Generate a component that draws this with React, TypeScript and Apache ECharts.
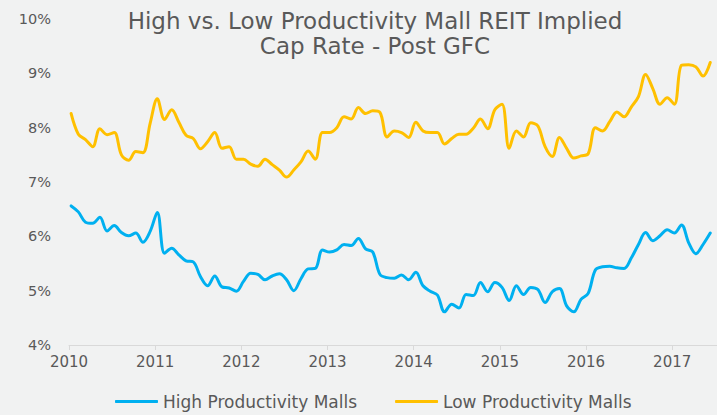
import React, { useEffect, useRef } from "react";
import * as echarts from "echarts";

// Monthly implied cap rates (%), Jan 2010 – Jun 2017
const highProductivity = [
  6.56, 6.45, 6.26, 6.24, 6.35, 6.10, 6.20, 6.07, 6.01, 6.06, 5.89, 6.09,
  6.44, 5.69, 5.78, 5.66, 5.55, 5.53, 5.26, 5.09, 5.27, 5.07, 5.05, 4.99,
  5.17, 5.32, 5.30, 5.20, 5.27, 5.31, 5.20, 5.00, 5.22, 5.40, 5.41, 5.75,
  5.71, 5.75, 5.85, 5.83, 5.96, 5.77, 5.71, 5.30, 5.24, 5.23, 5.29, 5.20,
  5.34, 5.09, 4.99, 4.92, 4.61, 4.75, 4.68, 4.93, 4.91, 5.15, 4.98, 5.15,
  5.06, 4.82, 5.09, 4.93, 5.06, 5.02, 4.78, 4.98, 5.04, 4.72, 4.61, 4.84,
  4.95, 5.38, 5.44, 5.45, 5.42, 5.41, 5.60, 5.85, 6.07, 5.92, 6.01, 6.12,
  6.06, 6.21, 5.88, 5.68, 5.85, 6.06,
];

const lowProductivity = [
  8.26, 7.88, 7.78, 7.65, 7.98, 7.87, 7.91, 7.50, 7.40, 7.56, 7.54, 8.08,
  8.53, 8.15, 8.33, 8.10, 7.86, 7.80, 7.61, 7.74, 7.91, 7.62, 7.65, 7.42,
  7.42, 7.33, 7.29, 7.42, 7.32, 7.22, 7.09, 7.22, 7.37, 7.57, 7.42, 7.91,
  7.91, 8.00, 8.20, 8.16, 8.37, 8.26, 8.31, 8.28, 7.83, 7.94, 7.91, 7.82,
  8.10, 7.94, 7.91, 7.91, 7.70, 7.80, 7.88, 7.88, 7.99, 8.16, 7.98, 8.33,
  8.43, 7.62, 7.94, 7.83, 8.09, 8.03, 7.65, 7.47, 7.82, 7.62, 7.44, 7.48,
  7.52, 8.00, 7.94, 8.11, 8.29, 8.20, 8.38, 8.57, 8.98, 8.72, 8.43, 8.55,
  8.43, 9.15, 9.16, 9.12, 8.95, 9.20,
];

const startYear = 2010;
const monthOffset = 0.3; // observations fall early in each month
const yTicks = [4, 5, 6, 7, 8, 9, 10];
const xYears = [2010, 2011, 2012, 2013, 2014, 2015, 2016, 2017];
const seriesNames = ["High Productivity Malls", "Low Productivity Malls"];
const titleText = "High vs. Low Productivity Mall REIT Implied\nCap Rate - Post GFC";

const monthX = (i: number) => startYear + (i + monthOffset) / 12;

export default function App() {
  const ref = useRef<HTMLDivElement>(null);

  useEffect(() => {
    if (!ref.current) return;
    const chart = echarts.init(ref.current, undefined, { renderer: "svg" });
    const font = "DejaVu Sans, Liberation Sans, Arial, sans-serif";
    const grey = "#595959";
    chart.setOption({
      animation: false,
      backgroundColor: "#F1F2F2",
      title: {
        text: titleText,
        left: 370,
        top: 3,
        textAlign: "center",
        textStyle: {
          fontFamily: font,
          fontSize: 23,
          fontWeight: "normal",
          color: grey,
          lineHeight: 25,
        },
      },
      grid: { left: 69, right: 0, top: 19, bottom: 70, containLabel: false },
      xAxis: {
        type: "value",
        min: xYears[0],
        max: 2017.52,
        interval: 1,
        axisLine: { show: true, lineStyle: { color: "#D9D9D9", width: 1 } },
        axisTick: { show: true, length: 5, lineStyle: { color: "#D9D9D9" } },
        splitLine: { show: false },
        axisLabel: {
          showMaxLabel: false,
          margin: 9,
          fontFamily: font,
          fontSize: 15,
          color: grey,
          formatter: (v: number) => (xYears.includes(Math.round(v)) && Math.abs(v - Math.round(v)) < 1e-6 ? String(Math.round(v)) : ""),
        },
      },
      yAxis: {
        type: "value",
        min: yTicks[0],
        max: yTicks[yTicks.length - 1],
        interval: 1,
        axisLine: { show: false },
        axisTick: { show: false },
        splitLine: { show: false },
        axisLabel: {
          margin: 18,
          fontFamily: font,
          fontSize: 14.5,
          color: grey,
          formatter: (v: number) => `${v}%`,
        },
      },
      legend: {
        left: 110,
        top: 388,
        icon: "roundRect",
        itemWidth: 43,
        itemHeight: 3,
        itemGap: 38,
        textStyle: { fontFamily: font, fontSize: 17, color: grey },
        data: seriesNames,
      },
      series: [
        {
          name: seriesNames[0],
          type: "line",
          smooth: 0.35,
          showSymbol: false,
          color: "#00B0F0",
          lineStyle: { width: 3, color: "#00B0F0", cap: "round", join: "round" },
          data: highProductivity.map((v, i) => [monthX(i), v]),
        },
        {
          name: seriesNames[1],
          type: "line",
          smooth: 0.35,
          showSymbol: false,
          color: "#FFC000",
          lineStyle: { width: 3, color: "#FFC000", cap: "round", join: "round" },
          data: lowProductivity.map((v, i) => [monthX(i), v]),
        },
      ],
    });
    return () => chart.dispose();
  }, []);

  return (
    <div
      ref={ref}
      style={{ position: "fixed", left: 0, top: 0, width: 717, height: 415 }}
    />
  );
}
